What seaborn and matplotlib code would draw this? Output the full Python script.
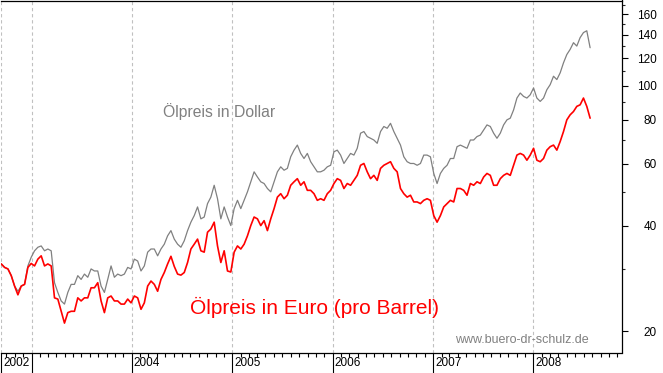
import numpy as np
import pandas as pd
import matplotlib
matplotlib.use("Agg")
import matplotlib.pyplot as plt
import matplotlib.dates as mdates
from matplotlib.ticker import FixedLocator, FixedFormatter, NullFormatter
import seaborn as sns

# ---------------- data ----------------
start_date = "2002-09-13"
end_date = "2008-07-25"

dollar = [
    31.1, 30.4, 30.1, 28.8, 26.9, 26.0, 26.9, 27.2, 30.7, 32.5,
    33.9, 34.7, 35.0, 33.9, 34.3, 33.9, 27.5, 25.8, 24.4, 23.9,
    25.8, 27.2, 27.2, 28.8, 28.1, 29.1, 28.5, 30.1, 29.7, 29.7,
    26.9, 25.8, 28.1, 30.7, 28.5, 29.1, 28.8, 29.1, 30.4, 30.1,
    32.1, 31.7, 29.7, 30.7, 33.6, 34.3, 34.3, 32.8, 34.3, 35.4,
    37.4, 38.7, 36.6, 35.4, 34.7, 36.2, 38.7, 40.9, 42.7, 45.2,
    41.8, 42.3, 46.2, 48.2, 52.1, 47.7, 41.8, 45.2, 42.3, 40.0,
    44.7, 47.2, 44.7, 47.2, 49.9, 53.3, 56.9, 55.0, 53.3, 52.7,
    51.0, 49.9, 53.3, 56.9, 58.8, 57.5, 58.2, 62.8, 65.6, 67.8,
    64.2, 62.1, 64.2, 60.8, 58.8, 56.9, 56.9, 57.5, 58.8, 59.4,
    64.9, 65.6, 63.5, 60.1, 62.1, 64.2, 63.5, 66.4, 73.3, 74.1,
    71.7, 70.9, 70.1, 68.6, 74.1, 76.6, 75.7, 78.2, 74.1, 70.9,
    67.8, 62.8, 60.8, 60.1, 60.1, 59.4, 60.1, 63.5, 63.5, 62.8,
    56.3, 52.7, 56.3, 58.2, 59.4, 62.1, 62.1, 67.1, 67.8, 67.1,
    66.4, 70.1, 70.1, 71.7, 72.4, 74.9, 77.4, 76.6, 73.3, 70.9,
    73.3, 77.4, 80.0, 80.9, 85.4, 92.3, 95.4, 93.3, 92.3, 94.3,
    98.6, 92.3, 90.3, 92.3, 97.5, 100.8, 106.5, 104.2, 108.9, 116.3,
    122.8, 127.0, 132.7, 129.8, 137.2, 141.8, 143.5, 128.4,
]

euro = [
    31.1, 30.4, 30.1, 28.8, 26.9, 25.4, 26.9, 27.2, 30.4, 31.2,
    30.7, 32.1, 32.8, 30.7, 31.1, 30.7, 24.9, 24.7, 22.8, 21.1,
    22.6, 22.8, 22.8, 24.9, 24.4, 24.9, 24.9, 26.6, 26.6, 27.5,
    24.4, 22.6, 24.9, 25.2, 24.4, 24.4, 23.9, 23.9, 24.7, 24.1,
    25.2, 24.9, 23.1, 24.1, 26.9, 27.8, 27.2, 26.0, 28.1, 29.4,
    31.1, 32.7, 30.6, 29.1, 28.9, 29.4, 31.4, 34.3, 35.4, 36.6,
    33.9, 33.6, 38.3, 39.1, 40.9, 35.0, 31.4, 33.9, 29.7, 29.5,
    33.6, 35.0, 34.3, 35.4, 37.4, 40.0, 42.3, 41.8, 40.0, 41.3,
    38.7, 41.8, 44.7, 48.2, 49.3, 47.7, 48.8, 52.1, 53.3, 54.4,
    52.1, 53.3, 50.4, 50.4, 49.3, 47.2, 47.7, 47.2, 49.3, 50.4,
    52.7, 54.4, 53.8, 51.0, 52.7, 52.1, 53.8, 55.6, 59.4, 60.1,
    56.9, 54.4, 55.6, 53.8, 58.2, 59.4, 60.1, 60.8, 58.2, 56.9,
    51.0, 49.3, 48.2, 48.8, 46.7, 46.7, 46.2, 47.2, 47.7, 47.2,
    42.7, 40.9, 42.7, 45.2, 46.2, 47.2, 46.7, 51.0, 51.0, 50.4,
    48.8, 52.7, 52.1, 53.3, 52.7, 55.0, 56.3, 55.6, 52.1, 52.1,
    54.4, 55.6, 56.3, 55.6, 59.4, 63.5, 64.2, 63.5, 61.4, 63.5,
    66.4, 61.4, 60.8, 62.1, 65.6, 67.1, 67.8, 65.6, 69.4, 74.1,
    80.0, 82.7, 84.5, 87.4, 88.3, 92.3, 87.4, 80.9,
]

year_tick_dates = ["2002-09-13", "2003-01-01", "2004-01-01", "2005-01-01",
                   "2006-01-01", "2007-01-01", "2008-01-01"]
year_tick_labels = ["2002", "", "2004", "2005", "2006", "2007", "2008"]
y_major = [20, 40, 60, 80, 100, 120, 140, 160]
y_major_labels = ["20", "40", "60", "80", "100", "120", "140", "160"]
y_minor = [30, 50, 70, 90, 110, 130, 150, 170]

label_dollar = "Ölpreis in Dollar"
label_euro = "Ölpreis in Euro (pro Barrel)"
credit = "www.buero-dr-schulz.de"

# ---------------- build frame ----------------
dates = pd.date_range(start_date, end_date, periods=len(dollar))
df = pd.DataFrame({"date": dates, "dollar": dollar, "euro": euro})

sns.set_style("white")
plt.rcParams["font.family"] = ["Liberation Sans", "DejaVu Sans"]

fig = plt.figure(figsize=(6.63, 3.73), dpi=100)
fig.patch.set_facecolor("white")
ax = fig.add_axes([1 / 663, 20.5 / 373, 621 / 663, 352 / 373])

sns.lineplot(data=df, x="date", y="dollar", ax=ax, color="#808080",
             linewidth=0.9)
sns.lineplot(data=df, x="date", y="euro", ax=ax, color="#ff0000",
             linewidth=1.2)

# ---------------- y axis (log, right side) ----------------
ax.set_yscale("log")
ax.set_ylim(17.4, 175)
ax.yaxis.set_major_locator(FixedLocator(y_major))
ax.yaxis.set_major_formatter(FixedFormatter(y_major_labels))
ax.yaxis.set_minor_locator(FixedLocator(y_minor))
ax.yaxis.set_minor_formatter(NullFormatter())
ax.yaxis.tick_right()
ax.tick_params(axis="y", which="major", right=True, left=False,
               labelright=True, labelleft=False, length=4.5, width=0.8,
               direction="out", pad=20.5, labelsize=8.5, colors="black")
ax.tick_params(axis="y", which="minor", right=True, left=False,
               length=2.5, width=0.8, direction="out")
for lbl in ax.get_yticklabels():
    lbl.set_horizontalalignment("right")
ax.set_ylabel("")

# ---------------- x axis (dates) ----------------
tick_nums = mdates.date2num(pd.to_datetime(year_tick_dates))
ax.set_xlim(mdates.date2num(pd.Timestamp("2002-09-12")),
            mdates.date2num(pd.Timestamp("2008-11-18")))
ax.xaxis.set_major_locator(FixedLocator(tick_nums))
ax.xaxis.set_major_formatter(NullFormatter())
ax.xaxis.set_minor_locator(mdates.MonthLocator())
ax.xaxis.set_minor_formatter(NullFormatter())
ax.tick_params(axis="x", which="major", bottom=True, length=14.5, width=0.8,
               direction="out", colors="black")
ax.tick_params(axis="x", which="minor", bottom=True, length=3, width=0.8,
               direction="out", colors="black")
ax.set_xlabel("")
for x, lab in zip(tick_nums, year_tick_labels):
    if lab:
        ax.annotate(lab, xy=(x, 0), xycoords=("data", "axes fraction"),
                    xytext=(1.5, -3.5), textcoords="offset points",
                    ha="left", va="top", fontsize=8.5, color="black")

ax.grid(True, axis="x", which="major", color="#c0c0c0",
        linestyle=(0, (3, 2.5)), linewidth=0.8)
ax.grid(False, axis="y")

for side in ["top", "right", "bottom"]:
    ax.spines[side].set_visible(True)
    ax.spines[side].set_color("black")
    ax.spines[side].set_linewidth(0.9)
ax.spines["left"].set_visible(False)

# ---------------- texts ----------------
fig.text(219 / 663, 1 - 112 / 373, label_dollar, ha="center", va="center",
         fontsize=11.3, color="#808080")
fig.text(315 / 663, 1 - 307 / 373, label_euro, ha="center", va="center",
         fontsize=15, color="#ff0000")
fig.text(522 / 663, 1 - 340 / 373, credit, ha="center", va="center",
         fontsize=9, color="#808080")

fig.savefig("out.png", dpi=100, facecolor="white")
